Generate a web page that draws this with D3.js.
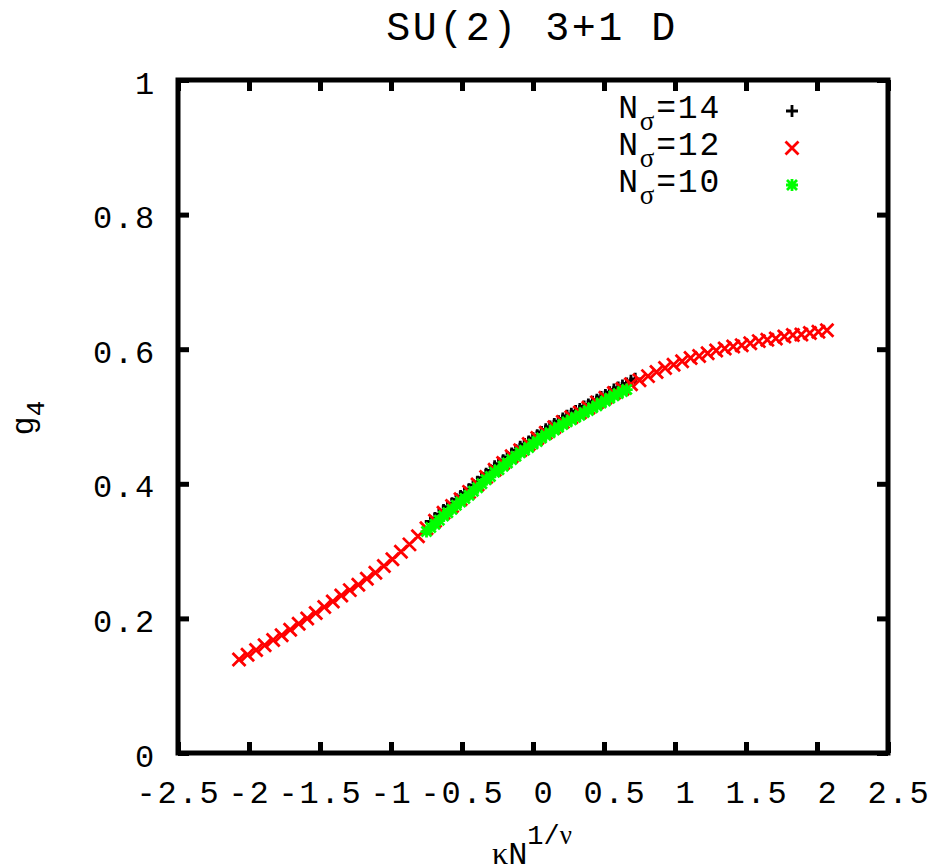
<!DOCTYPE html>
<html><head><meta charset="utf-8">
<script src="https://cdn.jsdelivr.net/npm/d3@7"></script>
<style>body{margin:0;background:#fff}svg{display:block}</style>
</head><body>
<svg id="c" width="934" height="868"></svg>
<script>
// ---- data ----
const xTicks = [-2.5,-2,-1.5,-1,-0.5,0,0.5,1,1.5,2,2.5];
const yTicks = [0,0.2,0.4,0.6,0.8,1];
const yTickLabels = ["0","0.2","0.4","0.6","0.8","1"];
const seriesNames = ["14","12","10"];

const n14x = [-0.72,-0.69,-0.66,-0.63,-0.60,-0.57,-0.54,-0.51,-0.48,-0.45,-0.42,-0.39,-0.36,-0.33,-0.30,-0.27,-0.24,-0.21,-0.18,-0.15,-0.12,-0.09,-0.06,-0.03,0.00,0.03,0.06,0.09,0.12,0.15,0.18,0.21,0.24,0.27,0.30,0.33,0.36,0.39,0.42,0.45,0.48,0.51,0.54,0.57,0.60,0.63,0.66,0.69,0.72];
const n14y = [0.344,0.349,0.355,0.361,0.366,0.371,0.377,0.382,0.387,0.392,0.398,0.403,0.409,0.415,0.420,0.426,0.430,0.435,0.440,0.445,0.450,0.455,0.459,0.463,0.468,0.472,0.477,0.481,0.485,0.489,0.493,0.497,0.501,0.504,0.508,0.511,0.515,0.518,0.522,0.525,0.529,0.532,0.536,0.540,0.543,0.546,0.549,0.553,0.556];

const n12x = [-2.07,-2.01,-1.95,-1.89,-1.83,-1.77,-1.71,-1.65,-1.59,-1.53,-1.47,-1.41,-1.35,-1.29,-1.23,-1.17,-1.11,-1.05,-0.99,-0.93,-0.87,-0.81,-0.75,-0.69,-0.63,-0.57,-0.51,-0.45,-0.39,-0.33,-0.27,-0.21,-0.15,-0.09,-0.03,0.03,0.09,0.15,0.21,0.27,0.33,0.39,0.45,0.51,0.57,0.63,0.69,0.75,0.81,0.87,0.93,0.99,1.05,1.11,1.17,1.23,1.29,1.35,1.41,1.47,1.53,1.59,1.65,1.71,1.77,1.83,1.89,1.95,2.01,2.07];
const n12y = [0.139,0.146,0.153,0.160,0.168,0.175,0.183,0.192,0.200,0.208,0.217,0.225,0.234,0.242,0.250,0.259,0.268,0.278,0.288,0.299,0.310,0.322,0.334,0.345,0.357,0.367,0.377,0.388,0.399,0.410,0.421,0.431,0.441,0.450,0.459,0.468,0.476,0.484,0.492,0.499,0.506,0.513,0.521,0.528,0.535,0.541,0.548,0.554,0.560,0.566,0.572,0.577,0.582,0.587,0.590,0.594,0.598,0.601,0.604,0.606,0.609,0.612,0.614,0.616,0.619,0.621,0.622,0.624,0.626,0.628];

const n10x = [-0.75,-0.72,-0.69,-0.66,-0.63,-0.60,-0.57,-0.54,-0.51,-0.48,-0.45,-0.42,-0.39,-0.36,-0.33,-0.30,-0.27,-0.24,-0.21,-0.18,-0.15,-0.12,-0.09,-0.06,-0.03,0.00,0.03,0.06,0.09,0.12,0.15,0.18,0.21,0.24,0.27,0.30,0.33,0.36,0.39,0.42,0.45,0.48,0.51,0.54,0.57,0.60,0.63,0.66];
const n10y = [0.329,0.335,0.340,0.346,0.352,0.357,0.362,0.368,0.373,0.378,0.383,0.389,0.394,0.400,0.406,0.411,0.417,0.421,0.426,0.431,0.436,0.441,0.446,0.450,0.454,0.459,0.463,0.468,0.472,0.476,0.480,0.484,0.488,0.492,0.495,0.499,0.502,0.506,0.509,0.513,0.516,0.520,0.523,0.527,0.531,0.534,0.537,0.540];

// ---- drawing ----
const svg = d3.select('#c');
const L=178, R=888, T=80, B=753;
const x = d3.scaleLinear().domain([-2.5,2.5]).range([L,R]);
const y = d3.scaleLinear().domain([0,1]).range([B,T]);
const MONO = "'Liberation Mono','Courier New',monospace";
const SERIF = "'Liberation Serif','Times New Roman',serif";

const fmtX = d => (d<0?"-":"\u00a0") + String(Math.abs(d));

function styleAxis(g){
  g.attr('font-family',MONO).attr('font-size',32);
  g.select('.domain').remove();
  g.selectAll('.tick line').attr('stroke','#000').attr('stroke-width',5);
  g.selectAll('.tick text').attr('fill','#000').style('letter-spacing','1.8px').style('white-space','pre');
}
const gx = svg.append('g').attr('transform',`translate(0,${B})`)
  .call(d3.axisBottom(x).tickValues(xTicks).tickSize(-11).tickFormat(fmtX));
styleAxis(gx);
gx.selectAll('.tick text').attr('y',50).attr('dy',null);

const gy = svg.append('g').attr('transform',`translate(${L},0)`)
  .call(d3.axisLeft(y).tickValues(yTicks).tickSize(-11).tickFormat((d,i)=>yTickLabels[i]));
styleAxis(gy);
gy.selectAll('.tick text').attr('x',-22).attr('y',13).attr('dy',null);

const gt = svg.append('g').attr('transform',`translate(0,${T})`)
  .call(d3.axisTop(x).tickValues(xTicks).tickSize(-11).tickFormat(''));
styleAxis(gt);
const gr = svg.append('g').attr('transform',`translate(${R},0)`)
  .call(d3.axisRight(y).tickValues(yTicks).tickSize(-11).tickFormat(''));
styleAxis(gr);

svg.append('rect').attr('x',L).attr('y',T).attr('width',R-L).attr('height',B-T)
  .attr('fill','none').attr('stroke','#000').attr('stroke-width',5);

// symbols
const S=6;
const plusPath = `M${-S},0H${S}M0,${-S}V${S}`;
const crossPath = `M${-S-0.5},${-S-0.5}L${S+0.5},${S+0.5}M${-S-0.5},${S+0.5}L${S+0.5},${-S-0.5}`;
const starPath = plusPath + `M${-S+1},${-S+1}L${S-1},${S-1}M${-S+1},${S-1}L${S-1},${-S+1}`;
const series = [
  {name:seriesNames[0], xs:n14x, ys:n14y, color:'#000000', path:plusPath},
  {name:seriesNames[1], xs:n12x, ys:n12y, color:'#ff0000', path:crossPath},
  {name:seriesNames[2], xs:n10x, ys:n10y, color:'#00ff00', path:starPath}
];
series.forEach(s=>{
  svg.append('g').selectAll('path').data(s.xs.map((v,i)=>[v,s.ys[i]])).join('path')
    .attr('transform',d=>`translate(${x(d[0])},${y(d[1])})`)
    .attr('d',s.path).attr('fill','none').attr('stroke',s.color).attr('stroke-width',2.8);
});

// legend
series.forEach((s,i)=>{
  const by = 118 + i*37;
  const t = svg.append('text').attr('x',721).attr('y',by).attr('text-anchor','end')
    .attr('font-family',MONO).attr('font-size',33).style('letter-spacing','1.8px');
  t.append('tspan').text('N');
  t.append('tspan').attr('font-family',SERIF).attr('font-size',27).attr('dy',12).text('σ');
  t.append('tspan').attr('dy',-12).text('='+s.name);
  svg.append('path').attr('transform',`translate(792,${by-7})`).attr('d',s.path)
    .attr('fill','none').attr('stroke',s.color).attr('stroke-width',2.8);
});

// title
svg.append('text').attr('x',532).attr('y',40).attr('text-anchor','middle')
  .attr('font-family',MONO).attr('font-size',40).style('letter-spacing','2.5px')
  .style('white-space','pre').text('SU(2) 3+1 D');

// x label
const xl = svg.append('text').attr('x',532).attr('y',864).attr('text-anchor','middle')
  .attr('font-family',MONO).attr('font-size',32);
xl.append('tspan').attr('font-family',SERIF).text('κ');
xl.append('tspan').text('N');
xl.append('tspan').attr('font-size',27).attr('dy',-20).text('1/');
xl.append('tspan').attr('font-family',SERIF).attr('font-size',27).text('ν');

// y label
const yl = svg.append('text').attr('transform','translate(33,418) rotate(-90)')
  .attr('text-anchor','middle').attr('font-family',MONO).attr('font-size',32);
yl.append('tspan').text('g');
yl.append('tspan').attr('font-size',26).attr('dy',11).text('4');
</script>
</body></html>
